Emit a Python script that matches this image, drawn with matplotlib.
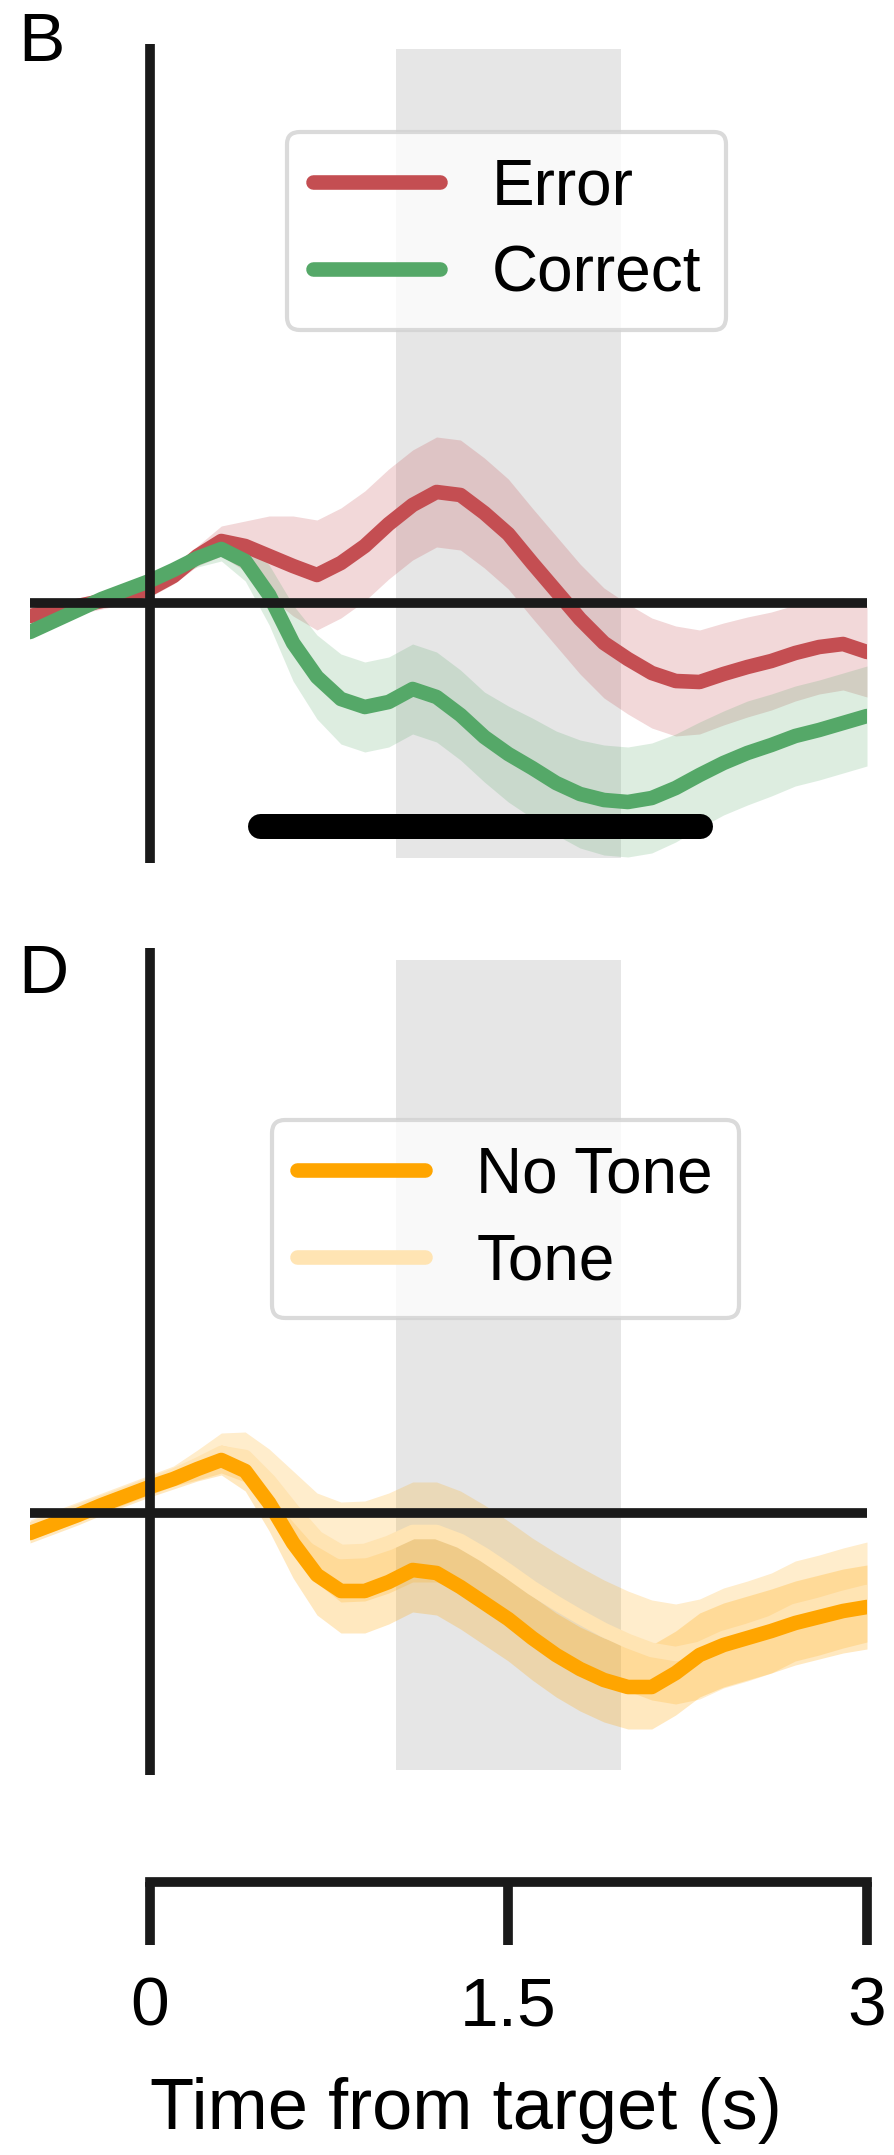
import numpy as np
import matplotlib.pyplot as plt

plt.rcParams['font.family'] = ['Liberation Sans', 'DejaVu Sans']
plt.rcParams['lines.solid_capstyle'] = 'round'

# Time points (s from target) at which the traces were read, every 0.1 s
time = [-0.5, -0.4, -0.3, -0.2, -0.1, 0.0, 0.1, 0.2, 0.3, 0.4, 0.5, 0.6,
        0.7, 0.8, 0.9, 1.0, 1.1, 1.2, 1.3, 1.4, 1.5, 1.6, 1.7, 1.8,
        1.9, 2.0, 2.1, 2.2, 2.3, 2.4, 2.5, 2.6, 2.7, 2.8, 2.9, 3.0]

# Panel B: error vs correct trials (mean and sem)
error_mean = [-0.13, -0.08, -0.03, 0.02, 0.07, 0.14, 0.27, 0.47, 0.62, 0.57, 0.47, 0.37,
              0.28, 0.40, 0.57, 0.79, 0.98, 1.11, 1.08, 0.90, 0.69, 0.40, 0.12, -0.16,
              -0.40, -0.56, -0.70, -0.78, -0.79, -0.71, -0.64, -0.58, -0.50, -0.44, -0.41, -0.49]
error_sem = [0.08, 0.08, 0.08, 0.08, 0.08, 0.08, 0.08, 0.10, 0.15, 0.25, 0.40, 0.50,
             0.55, 0.55, 0.55, 0.55, 0.55, 0.55, 0.55, 0.55, 0.55, 0.55, 0.55, 0.55,
             0.55, 0.55, 0.55, 0.55, 0.52, 0.51, 0.50, 0.49, 0.48, 0.47, 0.46, 0.45]
correct_mean = [-0.29, -0.18, -0.07, 0.04, 0.13, 0.22, 0.33, 0.45, 0.54, 0.42, 0.08, -0.40,
                -0.74, -0.96, -1.04, -0.99, -0.86, -0.94, -1.12, -1.34, -1.51, -1.65, -1.80, -1.91,
                -1.97, -1.99, -1.95, -1.85, -1.72, -1.60, -1.50, -1.42, -1.33, -1.27, -1.20, -1.13]
correct_sem = [0.06, 0.06, 0.06, 0.06, 0.06, 0.06, 0.06, 0.09, 0.12, 0.20, 0.30, 0.38,
               0.42, 0.45, 0.45, 0.45, 0.45, 0.45, 0.45, 0.45, 0.48, 0.50, 0.52, 0.54,
               0.55, 0.55, 0.55, 0.54, 0.53, 0.52, 0.52, 0.51, 0.50, 0.50, 0.50, 0.50]
signif_start, signif_end, signif_y = 0.46, 2.30, -2.23

# Panel D: no tone vs tone trials (mean and sem)
notone_mean = [-0.20, -0.11, -0.02, 0.08, 0.17, 0.26, 0.34, 0.44, 0.53, 0.42, 0.10, -0.30,
               -0.62, -0.78, -0.78, -0.69, -0.57, -0.60, -0.74, -0.90, -1.06, -1.25, -1.42, -1.56,
               -1.67, -1.74, -1.74, -1.60, -1.42, -1.32, -1.25, -1.18, -1.10, -1.04, -0.98, -0.94]
notone_sem = [0.10, 0.10, 0.10, 0.10, 0.10, 0.10, 0.10, 0.12, 0.15, 0.20, 0.28, 0.35,
              0.40, 0.42, 0.42, 0.42, 0.42, 0.42, 0.42, 0.42, 0.42, 0.42, 0.42, 0.42,
              0.42, 0.42, 0.42, 0.42, 0.42, 0.42, 0.42, 0.42, 0.42, 0.42, 0.42, 0.42]
tone_mean = [-0.17, -0.08, 0.01, 0.10, 0.19, 0.28, 0.37, 0.48, 0.60, 0.56, 0.32, 0.02,
             -0.25, -0.39, -0.38, -0.30, -0.19, -0.19, -0.28, -0.42, -0.58, -0.75, -0.90, -1.04,
             -1.17, -1.28, -1.37, -1.41, -1.36, -1.25, -1.18, -1.10, -0.98, -0.92, -0.85, -0.79]
tone_sem = [0.10, 0.10, 0.10, 0.10, 0.10, 0.10, 0.10, 0.15, 0.20, 0.25, 0.32, 0.40,
            0.45, 0.50, 0.50, 0.50, 0.50, 0.50, 0.50, 0.50, 0.50, 0.50, 0.50, 0.50,
            0.50, 0.50, 0.50, 0.50, 0.50, 0.50, 0.50, 0.50, 0.50, 0.50, 0.50, 0.50]

# Response window shaded in grey
window = (1.03, 1.97)
xticks = [0, 1.5, 3]
xticklabels = ['0', '1.5', '3']

red = '#c44e52'
green = '#55a868'
orange = '#ffa500'
tone_col = '#ffe4b3'
black = '#1a1a1a'

W, H = 894, 2155
fig = plt.figure(figsize=(W / 100, H / 100), dpi=100)


def px_axes(x0, x1, y0, y1):
    # axes from pixel box (top-left origin)
    return fig.add_axes([x0 / W, 1 - y1 / H, (x1 - x0) / W, (y1 - y0) / H])


def draw_trace(ax, mean, sem, color, band_color=None, alpha=0.22):
    mean = np.array(mean)
    sem = np.array(sem)
    band_color = band_color or color
    ax.fill_between(time, mean - sem, mean + sem, color=band_color, alpha=alpha, lw=0, zorder=2)
    ax.plot(time, mean, color=color, lw=10.5, zorder=3)


def setup_panel(ax, ylim, span_ymin, span_ymax):
    ax.set_xlim(-0.5, 3)
    ax.set_ylim(*ylim)
    for s in ax.spines.values():
        s.set_visible(False)
    ax.set_xticks([])
    ax.set_yticks([])
    ax.axvspan(window[0], window[1], ymin=span_ymin, ymax=span_ymax, color='#e6e6e6', lw=0, zorder=0)
    ax.axhline(0, color=black, lw=7, solid_capstyle='butt', zorder=5)
    ax.axvline(0, color=black, lw=7, solid_capstyle='butt', zorder=5)


def add_legend(ax, handles, anchor):
    leg = ax.legend(handles=handles, loc='upper left', bbox_to_anchor=anchor,
                    borderaxespad=0, fontsize=46, labelspacing=0.42, handletextpad=0.8)
    frame = leg.get_frame()
    frame.set_linewidth(3)
    frame.set_edgecolor('0.82')
    frame.set_alpha(0.8)
    return leg


# ---- Panel B ----
ax1 = px_axes(30, 867, 44, 863)
setup_panel(ax1, (-2.60, 5.59), 0.006, 0.994)
draw_trace(ax1, error_mean, error_sem, red, alpha=0.22)
draw_trace(ax1, correct_mean, correct_sem, green, alpha=0.2)
ax1.plot([signif_start, signif_end], [signif_y, signif_y], color='k', lw=18, zorder=6)
h1, = ax1.plot([], [], color=red, lw=10.5, label='Error')
h2, = ax1.plot([], [], color=green, lw=10.5, label='Correct')
add_legend(ax1, [h1, h2], (0.307, 0.893))

# ---- Panel D ----
ax2 = px_axes(30, 867, 948, 1775)
setup_panel(ax2, (-2.62, 5.65), 0.006, 0.985)
draw_trace(ax2, tone_mean, tone_sem, tone_col, band_color=orange, alpha=0.2)
draw_trace(ax2, notone_mean, notone_sem, orange, alpha=0.25)
h3, = ax2.plot([], [], color=orange, lw=10.5, label='No Tone')
h4, = ax2.plot([], [], color=tone_col, lw=10.5, label='Tone')
add_legend(ax2, [h3, h4], (0.289, 0.792))

# ---- shared time axis ----
ax3 = px_axes(30, 867, 1881, 1882)
ax3.set_xlim(-0.5, 3)
ax3.set_yticks([])
for name in ['top', 'left', 'right']:
    ax3.spines[name].set_visible(False)
ax3.spines['bottom'].set_bounds(0, 3)
ax3.spines['bottom'].set_linewidth(7)
ax3.spines['bottom'].set_color(black)
ax3.patch.set_alpha(0)
ax3.set_xticks(xticks)
ax3.set_xticklabels(xticklabels, fontsize=50)
ax3.tick_params(axis='x', direction='out', length=45, width=7, color=black, pad=22)

fig.text(466 / W, 1 - 2110 / H, 'Time from target (s)', fontsize=52, ha='center', va='center')

# panel letters
fig.text(18 / W, 1 - 43 / H, 'B', fontsize=50, ha='left', va='center')
fig.text(18 / W, 1 - 975 / H, 'D', fontsize=50, ha='left', va='center')

fig.savefig('out.png', dpi=100)
